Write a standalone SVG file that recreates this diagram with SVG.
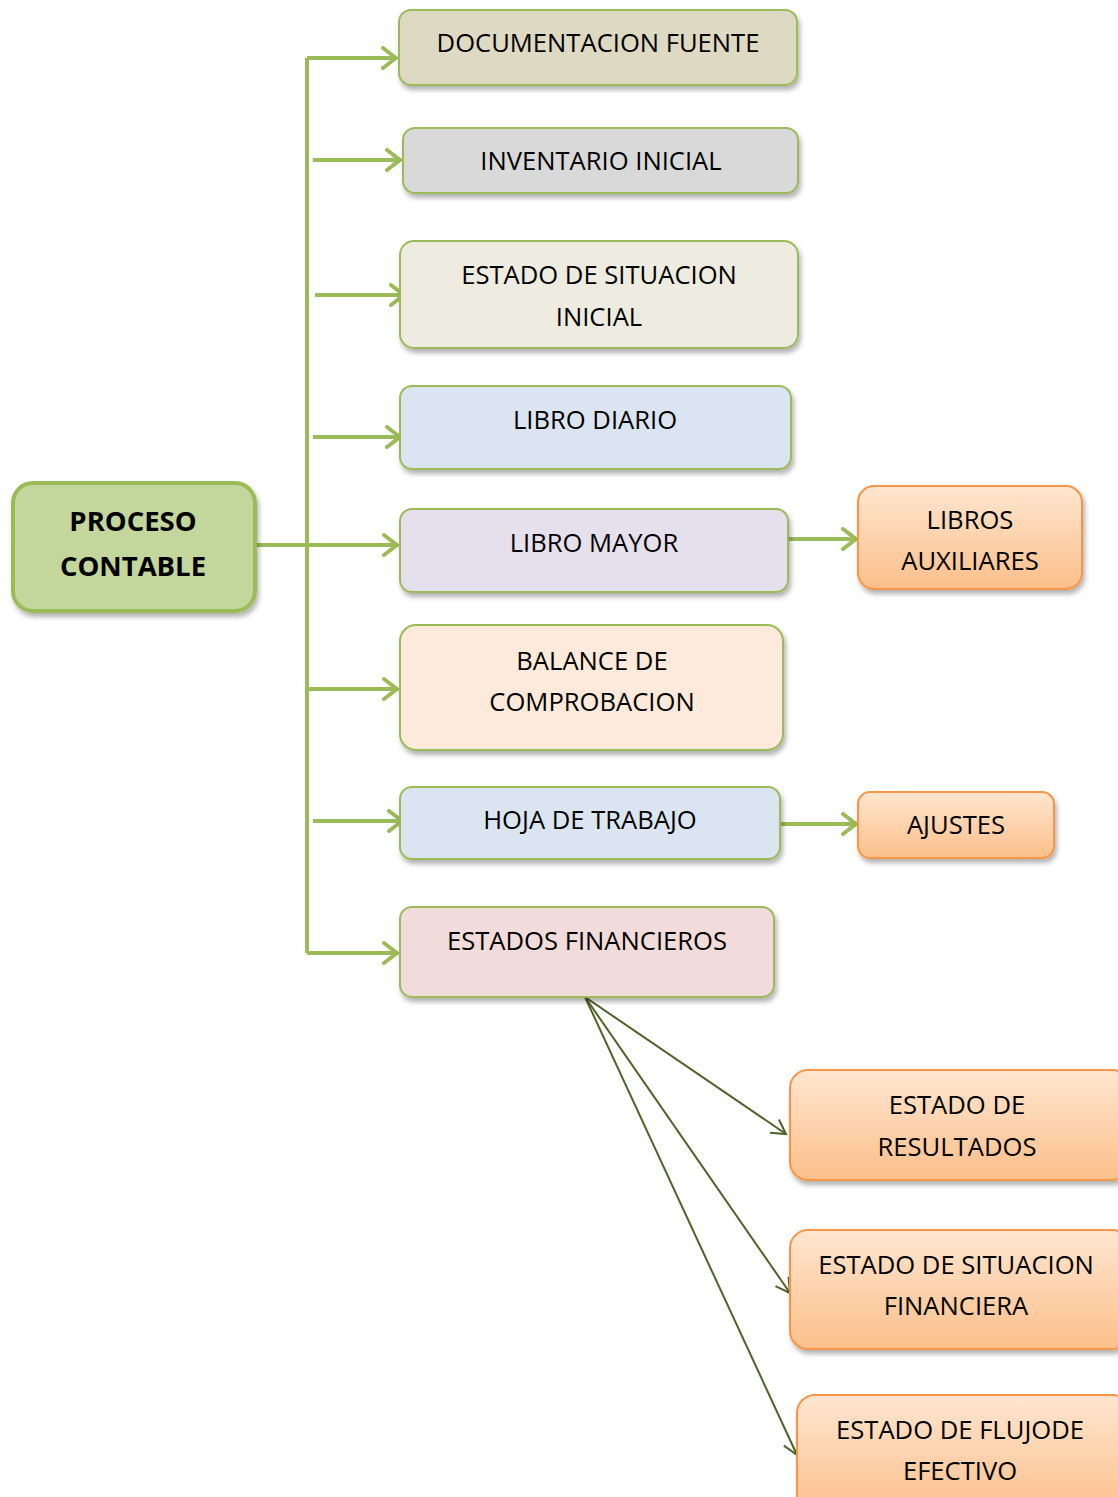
<svg xmlns="http://www.w3.org/2000/svg" width="1118" height="1497" viewBox="0 0 1118 1497">
<style>
text{font-family:"Open Sans","Liberation Sans",sans-serif;font-size:25.6px;fill:#000;text-anchor:middle}
.b{font-weight:bold;font-size:27.5px}
.g{stroke:#9bbb59;stroke-width:2}
.o{stroke:#f79646;stroke-width:2;fill:url(#og)}
.c{fill:none;stroke:#9bbb59;stroke-width:4}
.d{fill:none;stroke:#4f6228;stroke-width:2}
</style>
<defs>
<linearGradient id="og" x1="0" y1="0" x2="0" y2="1"><stop offset="0" stop-color="#ffe6d0"/><stop offset="1" stop-color="#fbbf8a"/></linearGradient>
<filter id="sh" x="-10%" y="-10%" width="125%" height="135%"><feDropShadow dx="2" dy="4" stdDeviation="2.5" flood-color="#000" flood-opacity="0.3"/></filter>
<marker id="ga" markerUnits="userSpaceOnUse" viewBox="-16 -12 20 24" refX="0" refY="0" markerWidth="20" markerHeight="24" orient="auto"><polyline points="-13,-10 0,0 -13,10" fill="none" stroke="#9bbb59" stroke-width="4" stroke-linecap="round" stroke-linejoin="round"/></marker>
<marker id="da" markerUnits="userSpaceOnUse" viewBox="-16 -12 20 24" refX="0" refY="0" markerWidth="20" markerHeight="24" orient="auto"><polyline points="-14,-8 0,0 -14,8" fill="none" stroke="#4f6228" stroke-width="2"/></marker>
</defs>
<g id="connectors">
<line class="c" x1="307" y1="58" x2="307" y2="953"/>
<line class="c" x1="307" y1="58" x2="396" y2="58" marker-end="url(#ga)"/>
<line class="c" x1="313" y1="160" x2="400" y2="160" marker-end="url(#ga)"/>
<line class="c" x1="315" y1="295" x2="404" y2="295" marker-end="url(#ga)"/>
<line class="c" x1="313" y1="437" x2="400" y2="437" marker-end="url(#ga)"/>
<line class="c" x1="256" y1="545" x2="397" y2="545" marker-end="url(#ga)"/>
<line class="c" x1="307" y1="689" x2="397" y2="689" marker-end="url(#ga)"/>
<line class="c" x1="313" y1="821" x2="402" y2="821" marker-end="url(#ga)"/>
<line class="c" x1="307" y1="953" x2="397" y2="953" marker-end="url(#ga)"/>
<line class="c" x1="788" y1="539" x2="856" y2="539" marker-end="url(#ga)"/>
<line class="c" x1="780" y1="824" x2="856" y2="824" marker-end="url(#ga)"/>
<line class="d" x1="585" y1="997" x2="786" y2="1134" marker-end="url(#da)"/>
<line class="d" x1="585" y1="997" x2="790" y2="1293" marker-end="url(#da)"/>
<line class="d" x1="585" y1="997" x2="797" y2="1455" marker-end="url(#da)"/>
</g>
<g id="proceso"><rect x="13" y="483" width="242" height="128" rx="20" fill="#c3d69b" stroke="#9bbb59" stroke-width="4" filter="url(#sh)"/><text class="b" x="133" y="531">PROCESO</text><text class="b" x="133" y="576">CONTABLE</text></g>
<g id="doc"><rect class="g" x="399" y="10" width="398" height="75" rx="12" fill="#ddd9c3" filter="url(#sh)"/><text x="598" y="52">DOCUMENTACION FUENTE</text></g>
<g id="inv"><rect class="g" x="403" y="128" width="395" height="65" rx="12" fill="#d9d9d9" filter="url(#sh)"/><text x="601" y="170">INVENTARIO INICIAL</text></g>
<g id="esi"><rect class="g" x="400" y="241" width="398" height="107" rx="14" fill="#eeece1" filter="url(#sh)"/><text x="599" y="284">ESTADO DE SITUACION</text><text x="599" y="326">INICIAL</text></g>
<g id="diario"><rect class="g" x="400" y="386" width="391" height="83" rx="12" fill="#dbe5f1" filter="url(#sh)"/><text x="595" y="429">LIBRO DIARIO</text></g>
<g id="mayor"><rect class="g" x="400" y="509" width="388" height="83" rx="12" fill="#e5e0ec" filter="url(#sh)"/><text x="594" y="552">LIBRO MAYOR</text></g>
<g id="balance"><rect class="g" x="400" y="625" width="383" height="125" rx="16" fill="#fdeada" filter="url(#sh)"/><text x="592" y="670">BALANCE DE</text><text x="592" y="711">COMPROBACION</text></g>
<g id="hoja"><rect class="g" x="400" y="787" width="380" height="72" rx="12" fill="#dbe5f1" filter="url(#sh)"/><text x="590" y="829">HOJA DE TRABAJO</text></g>
<g id="ef"><rect class="g" x="400" y="907" width="374" height="90" rx="12" fill="#f2dcdb" filter="url(#sh)"/><text x="587" y="950">ESTADOS FINANCIEROS</text></g>
<g id="aux"><rect class="o" x="858" y="486" width="224" height="103" rx="16" filter="url(#sh)"/><text x="970" y="529">LIBROS</text><text x="970" y="570">AUXILIARES</text></g>
<g id="ajustes"><rect class="o" x="858" y="792" width="196" height="66" rx="12" filter="url(#sh)"/><text x="956" y="834">AJUSTES</text></g>
<g id="resultados"><rect class="o" x="790" y="1070" width="340" height="110" rx="18" filter="url(#sh)"/><text x="957" y="1114">ESTADO DE</text><text x="957" y="1156">RESULTADOS</text></g>
<g id="sitfin"><rect class="o" x="790" y="1230" width="340" height="119" rx="18" filter="url(#sh)"/><text x="956" y="1274">ESTADO DE SITUACION</text><text x="956" y="1315">FINANCIERA</text></g>
<g id="flujo"><rect class="o" x="797" y="1395" width="333" height="120" rx="18" filter="url(#sh)"/><text x="960" y="1439">ESTADO DE FLUJODE</text><text x="960" y="1480">EFECTIVO</text></g>
</svg>
